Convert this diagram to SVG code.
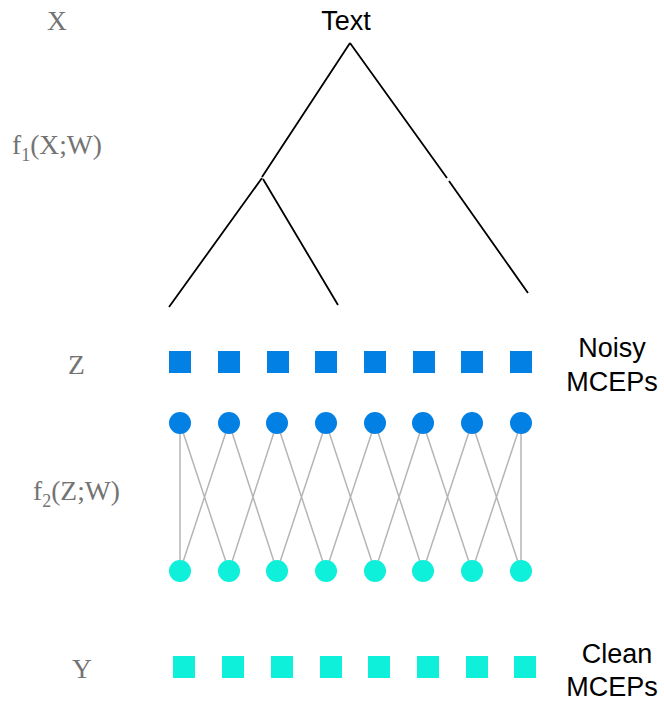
<svg xmlns="http://www.w3.org/2000/svg" width="664" height="702" viewBox="0 0 664 702">
<style>
.lbl{font-family:"Liberation Serif","Times New Roman",serif;font-size:27.5px;fill:#737373}
.sub{font-size:18px}
.txt{font-family:"Liberation Sans",Arial,sans-serif;font-size:27px;fill:#000}
.tree{stroke:#000;stroke-width:1.8;fill:none}
.edge{stroke:#b5b5b5;stroke-width:1.5;fill:none}
.zs{fill:#0380e3}
.zc{fill:#0380e3}
.yc{fill:#0ef0da}
.ys{fill:#0ef0da}
</style>
<rect width="664" height="702" fill="#fff"/>
<g id="labels">
<text class="lbl" x="47" y="30">X</text>
<text class="lbl" x="12" y="154">f<tspan class="sub" dy="7">1</tspan><tspan dy="-7">(X;W)</tspan></text>
<text class="lbl" x="68" y="374">Z</text>
<text class="lbl" x="33" y="500">f<tspan class="sub" dy="7">2</tspan><tspan dy="-7">(Z;W)</tspan></text>
<text class="lbl" x="72" y="678">Y</text>
</g>
<g id="tree">
<text class="txt" x="346" y="30" text-anchor="middle">Text</text>
<path class="tree" d="M350,43 L262,177 M262,178 L169,307 M263,179 L338,305 M350,43 L447,178 M449,181 L528,293"/>
</g>
<g id="connectors">
<path class="edge" d="M180,423 L180,571 M180,423 L229,571
M229,423 L180,571 M229,423 L277,571
M277,423 L229,571 M277,423 L326,571
M326,423 L277,571 M326,423 L375,571
M375,423 L326,571 M375,423 L423,571
M423,423 L375,571 M423,423 L472,571
M472,423 L423,571 M472,423 L521,571
M521,423 L472,571 M521,423 L521,571"/>
</g>
<g id="Z">
<rect class="zs" x="169" y="351" width="22" height="22"/>
<rect class="zs" x="218" y="351" width="22" height="22"/>
<rect class="zs" x="267" y="351" width="22" height="22"/>
<rect class="zs" x="315" y="351" width="22" height="22"/>
<rect class="zs" x="364" y="351" width="22" height="22"/>
<rect class="zs" x="413" y="351" width="22" height="22"/>
<rect class="zs" x="461" y="351" width="22" height="22"/>
<rect class="zs" x="510" y="351" width="22" height="22"/>
</g>
<g id="noisy-label">
<text class="txt" x="612" y="357" text-anchor="middle">Noisy</text>
<text class="txt" x="612" y="391" text-anchor="middle">MCEPs</text>
</g>
<g id="layer-top">
<circle class="zc" cx="180" cy="423" r="11"/>
<circle class="zc" cx="229" cy="423" r="11"/>
<circle class="zc" cx="277" cy="423" r="11"/>
<circle class="zc" cx="326" cy="423" r="11"/>
<circle class="zc" cx="375" cy="423" r="11"/>
<circle class="zc" cx="423" cy="423" r="11"/>
<circle class="zc" cx="472" cy="423" r="11"/>
<circle class="zc" cx="521" cy="423" r="11"/>
</g>
<g id="layer-bottom">
<circle class="yc" cx="180" cy="571" r="11"/>
<circle class="yc" cx="229" cy="571" r="11"/>
<circle class="yc" cx="277" cy="571" r="11"/>
<circle class="yc" cx="326" cy="571" r="11"/>
<circle class="yc" cx="375" cy="571" r="11"/>
<circle class="yc" cx="423" cy="571" r="11"/>
<circle class="yc" cx="472" cy="571" r="11"/>
<circle class="yc" cx="521" cy="571" r="11"/>
</g>
<g id="Y">
<rect class="ys" x="173" y="656" width="22" height="22"/>
<rect class="ys" x="222" y="656" width="22" height="22"/>
<rect class="ys" x="271" y="656" width="22" height="22"/>
<rect class="ys" x="320" y="656" width="22" height="22"/>
<rect class="ys" x="368" y="656" width="22" height="22"/>
<rect class="ys" x="417" y="656" width="22" height="22"/>
<rect class="ys" x="466" y="656" width="22" height="22"/>
<rect class="ys" x="514" y="656" width="22" height="22"/>
</g>
<g id="clean-label">
<text class="txt" x="617" y="663" text-anchor="middle">Clean</text>
<text class="txt" x="612" y="696" text-anchor="middle">MCEPs</text>
</g>
</svg>
